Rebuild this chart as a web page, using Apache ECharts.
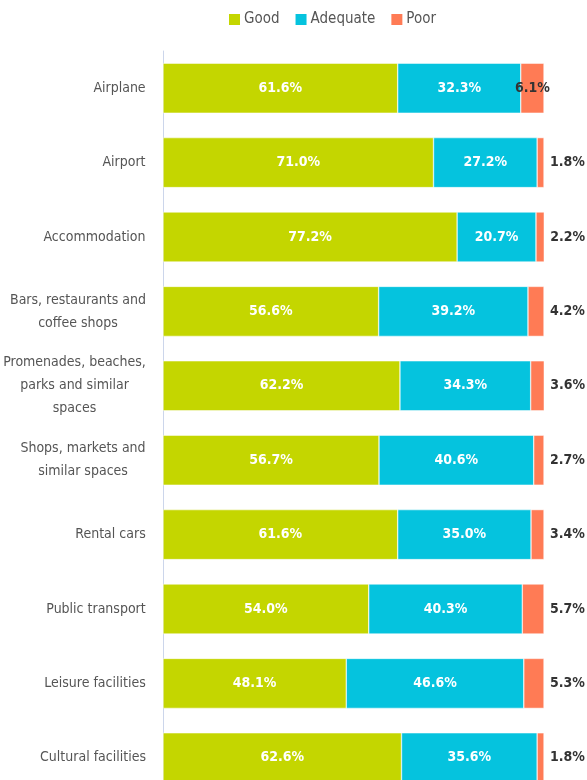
<!DOCTYPE html>
<html lang="en">
<head>
    <meta charset="utf-8">
    <title>Satisfaction</title>
    <script src="https://cdn.jsdelivr.net/npm/echarts@6/dist/echarts.min.js"></script>
    <style>
        html, body { margin: 0; padding: 0; background: #fff; overflow: hidden; }
        #chart { width: 587px; height: 800px; }
    </style>
</head>
<body>
    <div id="chart"></div>
    <script>
        var categories = ['Airplane', 'Airport', 'Accommodation', 'Bars, restaurants and\ncoffee shops',
            'Promenades, beaches,\nparks and similar\nspaces', 'Shops, markets and\nsimilar spaces',
            'Rental cars', 'Public transport', 'Leisure facilities', 'Cultural facilities'];
        var good = [61.6, 71.0, 77.2, 56.6, 62.2, 56.7, 61.6, 54.0, 48.1, 62.6];
        var adequate = [32.3, 27.2, 20.7, 39.2, 34.3, 40.6, 35.0, 40.3, 46.6, 35.6];
        var poor = [6.1, 1.8, 2.2, 4.2, 3.6, 2.7, 3.4, 5.7, 5.3, 1.8];

        var font = '"Liberation Sans Narrow", "DejaVu Sans Condensed", sans-serif';
        var chart = echarts.init(document.getElementById('chart'));

        // each wrapped label gets its own rich box so the lines are centred on each other
        var ctx = document.createElement('canvas').getContext('2d');
        ctx.font = '14px ' + font;
        var rich = {};
        categories.forEach(function (c, i) {
            var w = 0;
            c.split('\n').forEach(function (l) { w = Math.max(w, ctx.measureText(l).width); });
            rich['c' + i] = { width: Math.ceil(w), align: 'center', color: '#555', fontSize: 14,
                fontFamily: font, lineHeight: 23 };
        });

        function pct(p) { return p.value.toFixed(1) + '%'; }
        var innerLabel = { show: true, position: 'inside', color: '#fff', fontWeight: 'bold',
            fontSize: 14, fontFamily: font, formatter: pct };

        var option = {
            animation: false,
            color: ['#c4d600', '#05c3de', '#ff7b55'],
            legend: {
                top: 7, left: 222, itemWidth: 13, itemHeight: 13, itemGap: 14, icon: 'rect',
                textStyle: { fontSize: 15, color: '#555', fontFamily: font, padding: [0, 0, 0, -2] }
            },
            grid: { left: 162, right: 43, top: 51, height: 744 },
            xAxis: { type: 'value', min: 0, max: 100, show: false },
            yAxis: {
                type: 'category', data: categories, inverse: true,
                axisLine: { show: true, lineStyle: { color: '#ccd6eb' } },
                axisTick: { show: false },
                axisLabel: {
                    color: '#555', fontSize: 14, fontFamily: font, margin: 17, lineHeight: 23, align: 'right',
                    rich: rich,
                    formatter: function (value, index) {
                        return value.split('\n').map(function (l) { return '{c' + index + '|' + l + '}'; }).join('\n');
                    }
                }
            },
            series: [
                { name: 'Good', type: 'bar', stack: 'all', barWidth: 50, data: good,
                    itemStyle: { borderColor: '#fff', borderWidth: 0.5 }, label: innerLabel },
                { name: 'Adequate', type: 'bar', stack: 'all', barWidth: 50, data: adequate,
                    itemStyle: { borderColor: '#fff', borderWidth: 0.5 }, label: innerLabel },
                { name: 'Poor', type: 'bar', stack: 'all', barWidth: 50,
                    itemStyle: { borderColor: '#fff', borderWidth: 0.5 },
                    data: poor.map(function (v, i) {
                        return { value: v, label: { position: i === 0 ? 'inside' : 'right' } };
                    }),
                    label: { show: true, color: '#333', fontWeight: 'bold', fontSize: 14,
                        fontFamily: font, distance: 6, formatter: pct } }
            ]
        };
        chart.setOption(option);
    </script>
</body>
</html>
